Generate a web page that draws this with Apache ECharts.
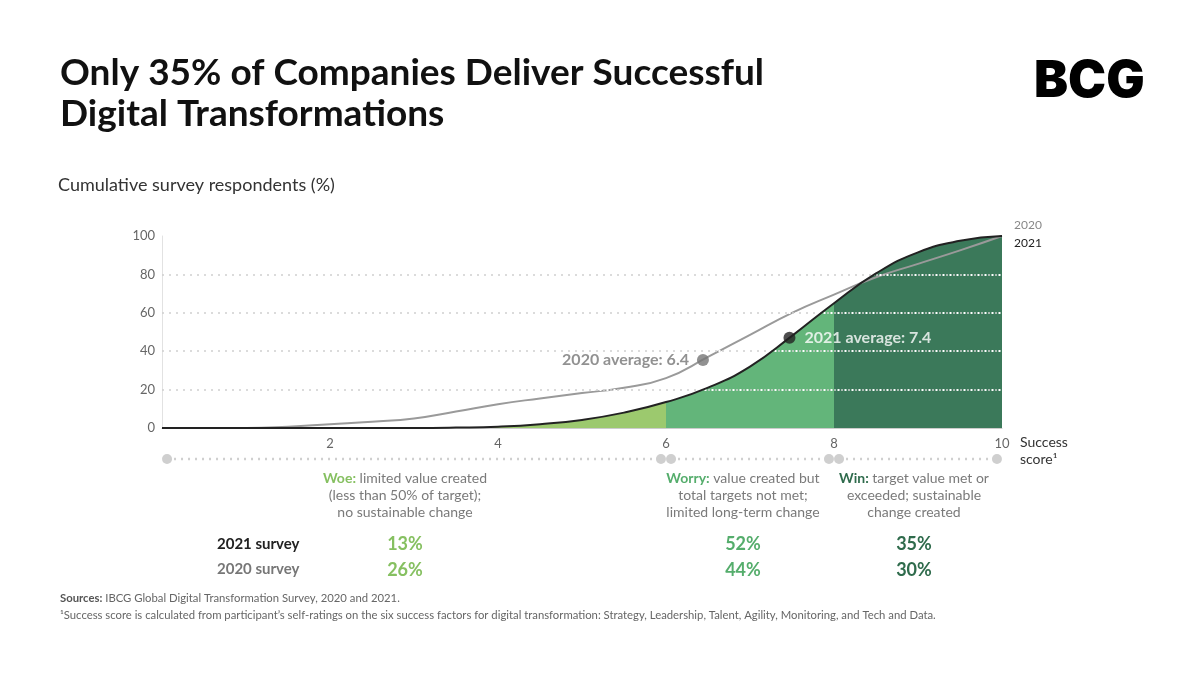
<!DOCTYPE html>
<html>
<head>
<meta charset="utf-8">
<script src="https://cdn.jsdelivr.net/npm/echarts@6/dist/echarts.min.js"></script>
<style>
  html, body { margin: 0; padding: 0; background: #fff; }
  #main { width: 1200px; height: 675px; }
</style>
</head>
<body>
<div id="main"></div>
<script>
// 数据
var scores = [0, 0.5, 1, 1.5, 2, 2.5, 3, 3.5, 4, 4.5, 5, 5.5, 6, 6.5, 7, 7.5, 8, 8.5, 9, 9.5, 10];
var resp2020 = [0, 0, 0, 0.7, 2, 3.3, 5, 8.6, 12.4, 15.4, 18.2, 21, 26, 37, 48.5, 60, 69.5, 78.5, 85.5, 92.5, 100];
var resp2021 = [0, 0, 0, 0, 0, 0, 0, 0.2, 0.7, 2, 4.2, 8, 13.5, 21, 32, 48, 65, 80.5, 91.5, 97.5, 100];
var yTicks = [20, 40, 60, 80];
var avg2020 = [6.44, 35.4];
var avg2021 = [7.47, 47];
var bands = [[0, 6], [6, 8], [8, 10]];
var bandNames = ['Woe:', 'Worry:', 'Win:'];
var bandLines = [
    [' limited value created', '(less than 50% of target);', 'no sustainable change'],
    [' value created but', 'total targets not met;', 'limited long-term change'],
    [' target value met or', 'exceeded; sustainable', 'change created']
];
var pct2021 = [13, 52, 35];
var pct2020 = [26, 44, 30];
var bandColors = ['#9cc96e', '#63b57a', '#3b795a'];
var textColors = ['#86c061', '#55ad6c', '#2f6b4c'];

function pairs(ys) {
    var out = [];
    for (var i = 0; i < scores.length; i++) out.push([scores[i], ys[i]]);
    return out;
}

var FONT = 'Lato';
var chart = echarts.init(document.getElementById('main'));

// 分段虚线（0-6, 6-8, 8-10）
var bandSeries = bands.map(function (b) {
    return {
        type: 'line',
        xAxisIndex: 1,
        yAxisIndex: 1,
        data: [[b[0] + 0.06, 0], [b[1] - 0.06, 0]],
        symbol: 'circle',
        symbolSize: 10,
        showSymbol: true,
        itemStyle: { color: '#cfcfcf' },
        lineStyle: { color: '#cfcfcf', width: 2.5, type: [2, 5] },
        silent: true
    };
});

// 文字 (图下方)
var centers = [405, 743, 914];
var graphics = [];
for (var i = 0; i < 3; i++) {
    var l = bandLines[i];
    graphics.push({
        type: 'text',
        x: centers[i], y: 470,
        style: {
            text: '{h|' + bandNames[i] + '}{t|' + l[0] + '}\n{t|' + l[1] + '}\n{t|' + l[2] + '}',
            align: 'center',
            rich: {
                h: { align: 'center', fill: textColors[i], fontWeight: 'bold', fontSize: 14, fontFamily: FONT, lineHeight: 17 },
                t: { align: 'center', fill: '#7a7a7a', fontSize: 14, fontFamily: FONT, lineHeight: 17 }
            }
        }
    });
    graphics.push({
        type: 'text', x: centers[i], y: 535,
        style: { text: pct2021[i] + '%', align: 'center', fill: textColors[i], font: 'bold 18px ' + FONT }
    });
    graphics.push({
        type: 'text', x: centers[i], y: 561,
        style: { text: pct2020[i] + '%', align: 'center', fill: textColors[i], font: 'bold 18px ' + FONT }
    });
}
graphics.push(
    { type: 'text', x: 217, y: 537, style: { text: '2021 survey', fill: '#222', font: 'bold 15px ' + FONT } },
    { type: 'text', x: 217, y: 562, style: { text: '2020 survey', fill: '#777', font: 'bold 15px ' + FONT } },
    { type: 'text', x: 1020, y: 434, style: { text: 'Success\nscore\u00B9', fill: '#333', font: '14px ' + FONT, lineHeight: 17 } },
    { type: 'text', x: 58, y: 176, style: { text: 'Cumulative survey respondents (%)', fill: '#333', font: '18px ' + FONT } },
    { type: 'text', x: 60, y: 53, style: { text: 'Only 35% of Companies Deliver Successful\nDigital Transformations', fill: '#111', font: 'bold 37px ' + FONT, lineHeight: 41 } },
    { type: 'text', x: 1034, y: 56, style: { text: 'BCG', fill: '#000', font: '900 51px Inter' } },
    {
        type: 'text', x: 60, y: 590,
        style: {
            text: '{b|Sources:} IBCG Global Digital Transformation Survey, 2020 and 2021.\n\u00B9Success score is calculated from participant\u2019s self-ratings on the six success factors for digital transformation: Strategy, Leadership, Talent, Agility, Monitoring, and Tech and Data.',
            fill: '#666', font: '11.3px ' + FONT, lineHeight: 17,
            rich: { b: { fontWeight: 'bold', fill: '#555', fontSize: 11.3, fontFamily: FONT } }
        }
    }
);

var option = {
    animation: false,
    textStyle: { fontFamily: FONT },
    grid: [
        { left: 162, right: 198, top: 236, bottom: 247 },
        { left: 162, right: 198, top: 454, height: 10 }
    ],
    xAxis: [
        {
            type: 'value', min: 0, max: 10, interval: 2,
            axisLine: { lineStyle: { color: '#cccccc' } },
            axisTick: { show: false },
            splitLine: { show: false },
            axisLabel: { color: '#666', fontSize: 13, margin: 9, showMinLabel: false }
        },
        { type: 'value', gridIndex: 1, min: 0, max: 10, show: false }
    ],
    yAxis: [
        {
            type: 'value', min: 0, max: 100, interval: 20,
            axisLine: { show: true, lineStyle: { color: '#e2e2e2' } },
            axisTick: { show: false },
            splitLine: { show: false },
            axisLabel: { color: '#666', fontSize: 13, margin: 7 }
        },
        { type: 'value', gridIndex: 1, min: -1, max: 1, show: false }
    ],
    visualMap: {
        type: 'piecewise', show: false, seriesIndex: 1, dimension: 0,
        pieces: [
            { lt: bands[0][1], color: bandColors[0] },
            { gte: bands[1][0], lt: bands[1][1], color: bandColors[1] },
            { gte: bands[2][0], color: bandColors[2] }
        ]
    },
    series: [
        {
            // 灰色网格线（底层）
            type: 'line', data: [], z: 1, silent: true,
            markLine: {
                silent: true, symbol: 'none', label: { show: false },
                lineStyle: { color: '#cfcfcf', width: 1.5, type: [2, 5] },
                data: yTicks.map(function (v) { return { yAxis: v }; })
            }
        },
        {
            // 2021 面积
            type: 'line', data: pairs(resp2021), smooth: 0.5,
            symbol: 'none', z: 2, silent: true,
            lineStyle: { width: 0 },
            areaStyle: { opacity: 1 },
            markLine: {
                silent: true, symbol: 'none', label: { show: false },
                lineStyle: { color: '#ffffff', width: 1.8, type: [2, 5], dashOffset: 3.5 },
                data: yTicks.map(function (v) { return { yAxis: v }; })
            }
        },
        {
            name: '2020', type: 'line', data: pairs(resp2020), smooth: 0.5,
            symbol: 'none', z: 4, silent: true,
            lineStyle: { color: '#9a9a9a', width: 2 },
            endLabel: { show: true, formatter: '2020', color: '#888', fontSize: 12, offset: [4, -11] }
        },
        {
            name: '2021', type: 'line', data: pairs(resp2021), smooth: 0.5,
            symbol: 'none', z: 5, silent: true,
            lineStyle: { color: '#222', width: 2 },
            endLabel: { show: true, formatter: '2021', color: '#222', fontSize: 12, offset: [4, 7] }
        },
        {
            type: 'scatter', data: [avg2020], symbolSize: 12, z: 6,
            itemStyle: { color: '#767676' },
            label: { show: true, position: 'left', distance: 8, formatter: '2020 average: 6.4', color: '#767676', fontSize: 16, fontWeight: 'bold' }
        },
        {
            type: 'scatter', data: [avg2021], symbolSize: 12, z: 6,
            itemStyle: { color: '#222' },
            label: { show: true, position: 'right', distance: 9, formatter: '2021 average: 7.4', color: '#fff', fontSize: 16, fontWeight: 'bold' }
        }
    ].concat(bandSeries),
    graphic: graphics
};
chart.setOption(option);
</script>
</body>
</html>
